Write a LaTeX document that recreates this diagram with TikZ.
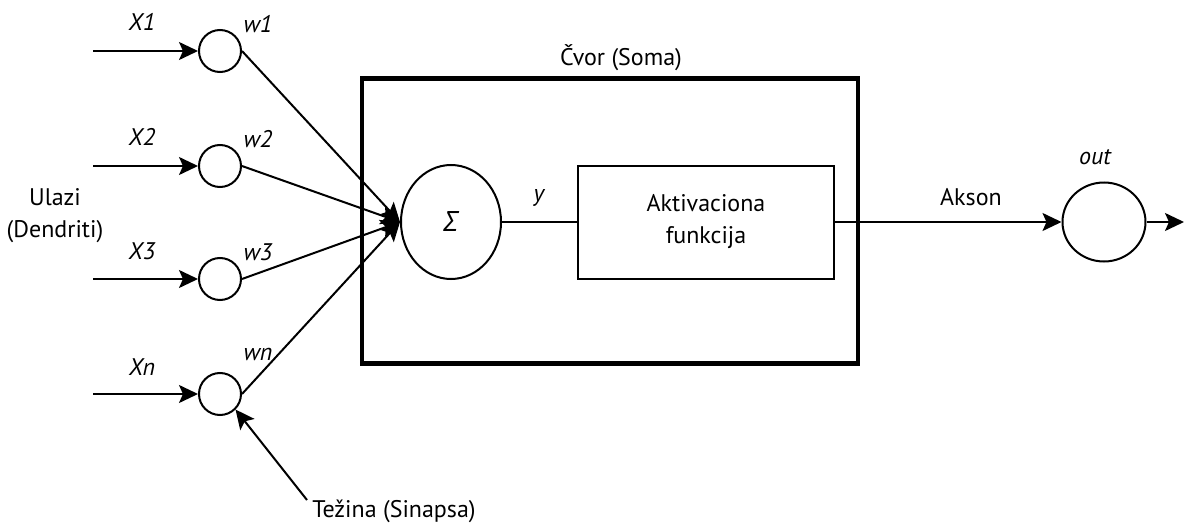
\documentclass[tikz,border=0pt]{standalone}
\usepackage{fontspec}
\setmainfont{PT Sans}
\newfontfamily\greekfont{Open Sans}
\usetikzlibrary{arrows.meta,shapes.geometric}
\begin{document}
\begin{tikzpicture}[x=1pt,y=-1pt,
  every node/.style={font=\fontsize{24}{29}\selectfont},
  wcirc/.style={draw,line width=2pt,circle,minimum size=42pt,inner sep=0pt},
  conn/.style={line width=2pt,-{Stealth[length=19pt,width=18pt,inset=4pt]}},
  plain/.style={line width=2pt},
  lbl/.style={font=\fontsize{24}{29}\selectfont\itshape}]
\useasboundingbox (0,0) rectangle (1184,527);

% soma box
\node[draw,line width=4.5pt,minimum width=496pt,minimum height=285pt,inner sep=0pt] (soma) at (610,221) {};
\node (somalbl) at (621,58) {Čvor (Soma)};

% weights
\node[wcirc] (w1) at (220,51) {};
\node[wcirc] (w2) at (220,166) {};
\node[wcirc] (w3) at (220,279) {};
\node[wcirc] (wn) at (220,394) {};

\coordinate (i1) at (93,51);
\coordinate (i2) at (93,166);
\coordinate (i3) at (93,279);
\coordinate (in) at (93,394);

\foreach \k in {1,2,3,n} \draw[conn] (i\k) -- (w\k.west);

\node[lbl] (x1) at (142,22) {X1};
\node[lbl] (x2) at (142,137) {X2};
\node[lbl] (x3) at (142,251) {X3};
\node[lbl] (xn) at (142,367) {Xn};
\node[lbl] (l1) at (258,24) {w1};
\node[lbl] (l2) at (258,139) {w2};
\node[lbl] (l3) at (258,252) {w3};
\node[lbl] (ln) at (258,354) {wn};

\node[align=center,font=\fontsize{24}{32}\selectfont] (ulazi) at (55,216) {Ulazi\\(Dendriti)};

% summation
\node[draw,line width=2pt,ellipse,minimum width=100pt,minimum height=114pt,inner sep=0pt] (sum) at (451,222) {\fontsize{28}{32}\greekfont\itshape Σ};
\foreach \k in {1,2,3,n} \draw[conn] (w\k.east) -- (sum.west);

% activation
\node[draw,line width=2pt,minimum width=256pt,minimum height=113pt,align=center,font=\fontsize{24}{32}\selectfont] (act) at (706,222) {Aktivaciona\\funkcija};
\draw[plain] (sum.east) -- (act.west);
\node[lbl] (ylbl) at (539,198) {y};

% output
\node[draw,line width=2pt,ellipse,minimum width=83pt,minimum height=79pt,inner sep=0pt] (out) at (1104,222) {};
\draw[conn] (act.east) -- (out.west);
\coordinate (oend) at (1184,222);
\draw[conn] (out.east) -- (oend);
\node (akson) at (971,197) {Akson};
\node[lbl] (outlbl) at (1095,157) {out};

% synapse pointer
\node (tez) at (394,511) {Težina (Sinapsa)};
\coordinate (tezs) at (307,500);
\draw[conn] (tezs) -- (wn.south east);
\end{tikzpicture}
\end{document}
